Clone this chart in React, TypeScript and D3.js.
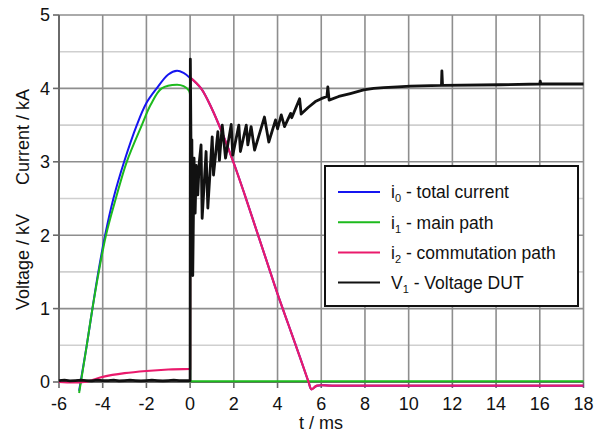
import React from "react";
import * as d3 from "d3";

// Time axis (ms) and value axis (kA / kV)
const xTicks = [-6, -4, -2, 0, 2, 4, 6, 8, 10, 12, 14, 16, 18];
const yTicks = [0, 1, 2, 3, 4, 5];
const yHalfTicks = [0.5, 1.5, 2.5, 3.5, 4.5];

// i0 - total current before commutation: [t, value]
const i0Rise: [number, number][] = [
  [-5.08, -0.12], [-4.73, 0.5], [-4.47, 1.0], [-4.2, 1.5], [-3.89, 2.0],
  [-3.51, 2.5], [-3.02, 3.0], [-2.44, 3.5], [-2.0, 3.8], [-1.53, 4.0],
  [-1.0, 4.19], [-0.6, 4.24], [-0.3, 4.21], [0, 4.14],
];

// i1 - main path
const i1Rise: [number, number][] = [
  [-5.08, -0.15], [-4.73, 0.5], [-4.47, 1.0], [-4.18, 1.5], [-3.85, 2.0],
  [-3.4, 2.5], [-2.9, 3.0], [-2.21, 3.5], [-1.8, 3.78], [-1.3, 4.0],
  [-0.6, 4.05], [-0.3, 4.03], [-0.05, 3.97], [0, 3.9],
];
const i1After: [number, number][] = [
  [0, 3.9], [0.001, 0.01], [18, 0.01],
];

// i2 - commutation path
const i2Before: [number, number][] = [
  [-6, 0], [-4.85, 0], [-4, 0.07], [-3, 0.12], [-2, 0.15], [-1, 0.17], [0, 0.18],
];
const i2After: [number, number][] = [
  [0.001, 4.15], [0.5, 4.0], [1.0, 3.72], [1.5, 3.37], [2.0, 2.98],
  [2.5, 2.55], [3.0, 2.1], [3.5, 1.65], [4.0, 1.2], [4.5, 0.78],
  [5.0, 0.36], [5.42, 0], [5.55, -0.1], [5.8, -0.05], [6.5, -0.05], [18, -0.05],
];

// V1 - voltage across the DUT
const v1Before: number[] = [
  0.02, 0.025, 0.015, 0.02, 0.025, 0.02, 0.015, 0.025, 0.02, 0.02, 0.025, 0.015,
  0.02, 0.025, 0.02, 0.015, 0.02, 0.025, 0.02, 0.015, 0.02, 0.025, 0.02, 0.02, 0.02,
];
const v1After: [number, number][] = [
  [0.01, 4.4], [0.05, 2.8], [0.08, 3.3], [0.12, 1.45], [0.18, 3.05],
  [0.23, 2.3], [0.28, 2.95], [0.35, 2.55], [0.42, 3.0], [0.5, 3.23],
  [0.55, 2.23], [0.73, 3.14], [0.81, 2.37], [1.01, 3.34], [1.07, 2.82],
  [1.27, 3.41], [1.34, 3.02], [1.47, 3.5], [1.62, 3.05], [1.88, 3.51],
  [1.95, 3.09], [2.23, 3.5], [2.3, 3.14], [2.57, 3.5], [2.64, 3.23],
  [2.79, 3.48], [2.95, 3.16], [3.4, 3.61], [3.6, 3.27], [3.91, 3.57],
  [4.0, 3.45], [4.17, 3.64], [4.32, 3.48], [4.6, 3.66], [4.65, 3.6],
  [5.01, 3.86], [5.08, 3.65], [5.4, 3.74], [5.73, 3.82], [6.0, 3.86],
  [6.26, 3.89], [6.3, 4.02], [6.36, 3.84], [6.8, 3.89], [7.33, 3.93],
  [7.94, 3.98], [8.4, 4.0], [8.86, 4.01], [9.5, 4.02], [10.08, 4.03],
  [11.5, 4.04], [11.52, 4.24], [11.55, 4.04], [14.2, 4.05], [16.0, 4.06],
  [16.02, 4.1], [16.05, 4.06], [18, 4.06],
];

const legendItems = [
  { name: "i", sub: "0", rest: " - total current", color: "#1515f0" },
  { name: "i", sub: "1", rest: " - main path", color: "#1dba1d" },
  { name: "i", sub: "2", rest: " - commutation path", color: "#ea1a6c" },
  { name: "V", sub: "1", rest: " - Voltage DUT", color: "#111111" },
];

const W = 599;
const H = 435;
const FONT = "'Liberation Sans', Arial, sans-serif";

export default function App() {
  const x = d3.scaleLinear().domain([-6, 18]).range([59, 583.5]);
  const y = d3.scaleLinear().domain([0, 5]).range([382, 15]);

  const line = d3
    .line<[number, number]>()
    .x((d) => x(d[0]))
    .y((d) => y(d[1]));
  const smooth = d3
    .line<[number, number]>()
    .x((d) => x(d[0]))
    .y((d) => y(d[1]))
    .curve(d3.curveCatmullRom.alpha(0.5));
  const join = (a: string, b: string) => a + b.replace(/^M/, "L");

  const i2Tail = smooth(i2After)!;
  const i0Path = join(smooth(i0Rise)!, i2Tail);
  const i1Path = join(smooth(i1Rise)!, line(i1After)!);
  const i2Path = join(smooth(i2Before)!, i2Tail);
  const v1Points: [number, number][] = [
    ...v1Before.map((v, k) => [-6 + k * 0.25, v] as [number, number]),
    ...v1After,
  ];
  const v1Path = line(v1Points)!;

  const left = x(-6);
  const right = x(18);
  const top = y(5);
  const bottom = y(0);

  return (
    <svg
      width={W}
      height={H}
      style={{ position: "absolute", left: 0, top: 0, background: "#fff" }}
      fontFamily={FONT}
    >
      <rect x={0} y={0} width={W} height={H} fill="#fff" />
      {/* grid */}
      {yHalfTicks.map((t) => (
        <line key={"h" + t} x1={left} x2={right} y1={y(t)} y2={y(t)} stroke="#cfcfcf" strokeWidth={1.6} />
      ))}
      {yTicks.map((t) => (
        <line key={"y" + t} x1={left} x2={right} y1={y(t)} y2={y(t)} stroke="#8e8e8e" strokeWidth={1.6} />
      ))}
      {xTicks.map((t) => (
        <line key={"x" + t} x1={x(t)} x2={x(t)} y1={top} y2={bottom} stroke="#8e8e8e" strokeWidth={1.6} />
      ))}
      {/* axes */}
      <line x1={left} x2={left} y1={top} y2={bottom} stroke="#6a6a6a" strokeWidth={2} />
      <line x1={left} x2={right} y1={bottom} y2={bottom} stroke="#6a6a6a" strokeWidth={2} />
      {yTicks.map((t) => (
        <g key={"yt" + t}>
          <line x1={left - 6} x2={left} y1={y(t)} y2={y(t)} stroke="#6a6a6a" strokeWidth={1.6} />
          <text x={left - 9} y={y(t)} dy="0.36em" textAnchor="end" fontSize={18} fill="#111">
            {t}
          </text>
        </g>
      ))}
      {xTicks.map((t) => (
        <g key={"xt" + t}>
          <line x1={x(t)} x2={x(t)} y1={bottom} y2={bottom + 6} stroke="#6a6a6a" strokeWidth={1.6} />
          <text x={x(t)} y={bottom + 28} textAnchor="middle" fontSize={18} fill="#111">
            {t}
          </text>
        </g>
      ))}
      {/* axis titles */}
      <text x={321} y={429} textAnchor="middle" fontSize={18} fill="#111">
        t / ms
      </text>
      <text transform="translate(29,137) rotate(-90)" textAnchor="middle" fontSize={18} fill="#111">
        Current / kA
      </text>
      <text transform="translate(29,262) rotate(-90)" textAnchor="middle" fontSize={18} fill="#111">
        Voltage / kV
      </text>

      {/* traces */}
      <path d={i0Path} fill="none" stroke={legendItems[0].color} strokeWidth={2} />
      <path d={i1Path} fill="none" stroke={legendItems[1].color} strokeWidth={2} />
      <path d={i2Path} fill="none" stroke={legendItems[2].color} strokeWidth={2.2} />
      <path d={v1Path} fill="none" stroke={legendItems[3].color} strokeWidth={2.8} strokeLinejoin="round" />

      {/* legend */}
      <rect x={325} y={166} width={253} height={140} fill="#fff" stroke="#111" strokeWidth={2} />
      {legendItems.map((it, k) => {
        const cy = 192 + k * 30.2;
        return (
          <g key={it.rest}>
            <line x1={338} x2={380} y1={cy} y2={cy} stroke={it.color} strokeWidth={2} />
            <text x={391} y={cy} dy="0.36em" fontSize={17.5} fill="#111">
              {it.name}
              <tspan fontSize={11} dy={4}>
                {it.sub}
              </tspan>
              <tspan dy={-4}>{it.rest}</tspan>
            </text>
          </g>
        );
      })}
    </svg>
  );
}
